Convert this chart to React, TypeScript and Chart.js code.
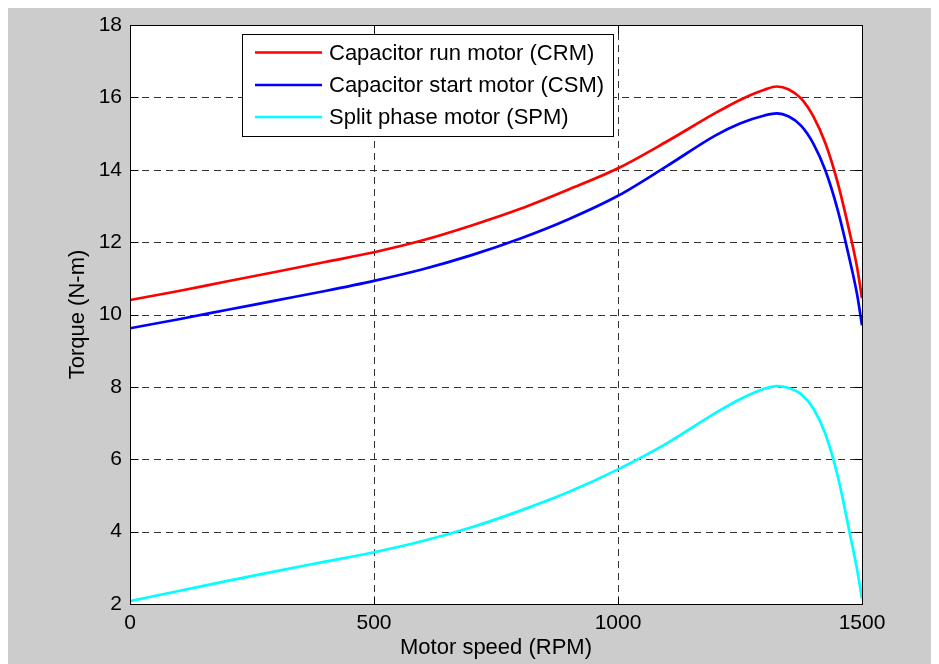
import React, { useEffect, useRef } from "react";
import { Chart, registerables } from "chart.js";

Chart.register(...registerables);

// ---- data ----
const speedRpm = [0, 100, 200, 300, 400, 500, 600, 700, 800, 900, 1000, 1100, 1200, 1250, 1300, 1325, 1350, 1375, 1400, 1425, 1450, 1475, 1490, 1500];
const crmTorque = [10.40, 10.65, 10.92, 11.18, 11.45, 11.72, 12.05, 12.46, 12.92, 13.46, 14.04, 14.78, 15.57, 15.93, 16.21, 16.30, 16.22, 15.97, 15.48, 14.73, 13.65, 12.25, 11.30, 10.45];
const csmTorque = [9.62, 9.87, 10.13, 10.39, 10.65, 10.93, 11.25, 11.64, 12.10, 12.64, 13.28, 14.10, 14.95, 15.28, 15.50, 15.56, 15.47, 15.22, 14.73, 13.98, 12.90, 11.50, 10.55, 9.70];
const spmTorque = [2.08, 2.36, 2.64, 2.91, 3.17, 3.43, 3.74, 4.12, 4.58, 5.10, 5.72, 6.44, 7.28, 7.66, 7.95, 8.02, 7.97, 7.80, 7.41, 6.70, 5.55, 3.95, 2.95, 2.15];

const seriesLabels = ["Capacitor run motor (CRM)", "Capacitor start motor (CSM)", "Split phase motor (SPM)"];
const seriesColors = ["#ff0000", "#0000ff", "#00ffff"];
const xTicks = [0, 500, 1000, 1500];
const yTicks = [2, 4, 6, 8, 10, 12, 14, 16, 18];
const xTitle = "Motor speed (RPM)";
const yTitle = "Torque (N-m)";

const FONT = 'Arial, "Liberation Sans", Helvetica, sans-serif';

const frame = {
  id: "matlabFrame",
  beforeDraw(chart: any) {
    const { ctx, chartArea: a, width, height } = chart;
    ctx.save();
    ctx.fillStyle = "#cccccc";
    ctx.fillRect(0, 0, width, height);
    ctx.fillStyle = "#ffffff";
    ctx.fillRect(a.left, a.top, a.right - a.left, a.bottom - a.top);
    ctx.restore();
  },
  beforeDatasetsDraw(chart: any) {
    const { ctx, chartArea: a, scales } = chart;
    const xs = scales.x;
    const ys = scales.y;
    ctx.save();
    ctx.strokeStyle = "#333333";
    ctx.lineWidth = 1;
    ctx.setLineDash([7, 5]);
    xs.ticks.forEach((t: any) => {
      const px = Math.round(xs.getPixelForValue(t.value)) + 0.5;
      ctx.beginPath();
      ctx.moveTo(px, a.bottom);
      ctx.lineTo(px, a.top);
      ctx.stroke();
    });
    ys.ticks.forEach((t: any) => {
      const py = Math.round(ys.getPixelForValue(t.value)) + 0.5;
      ctx.beginPath();
      ctx.moveTo(a.left, py);
      ctx.lineTo(a.right, py);
      ctx.stroke();
    });
    ctx.restore();
  },
  afterDatasetsDraw(chart: any) {
    const { ctx, chartArea: a, scales } = chart;
    const xs = scales.x;
    const ys = scales.y;
    ctx.save();
    ctx.setLineDash([]);
    ctx.strokeStyle = "#000000";
    ctx.lineWidth = 1;
    const L = Math.round(a.left) + 0.5;
    const R = Math.round(a.right) + 0.5;
    const T = Math.round(a.top) + 0.5;
    const B = Math.round(a.bottom) + 0.5;
    ctx.strokeRect(L, T, R - L, B - T);
    const tl = 8;
    ctx.beginPath();
    xs.ticks.forEach((t: any) => {
      const px = Math.round(xs.getPixelForValue(t.value)) + 0.5;
      ctx.moveTo(px, B); ctx.lineTo(px, B - tl);
      ctx.moveTo(px, T); ctx.lineTo(px, T + tl);
    });
    ys.ticks.forEach((t: any) => {
      const py = Math.round(ys.getPixelForValue(t.value)) + 0.5;
      ctx.moveTo(L, py); ctx.lineTo(L + tl, py);
      ctx.moveTo(R, py); ctx.lineTo(R - tl, py);
    });
    ctx.stroke();

    // legend
    const lx = 234.5, ly = 26.5, lw = 371, lh = 102;
    ctx.fillStyle = "#ffffff";
    ctx.fillRect(lx, ly, lw, lh);
    ctx.strokeStyle = "#000000";
    ctx.strokeRect(lx, ly, lw, lh);
    const rows = [44.5, 77, 109];
    ctx.font = `22px ${FONT}`;
    ctx.textBaseline = "middle";
    ctx.textAlign = "left";
    seriesLabels.forEach((label, i) => {
      ctx.strokeStyle = seriesColors[i];
      ctx.lineWidth = 2.7;
      ctx.beginPath();
      ctx.moveTo(247, rows[i]);
      ctx.lineTo(314, rows[i]);
      ctx.stroke();
      ctx.fillStyle = "#000000";
      ctx.fillText(label, 321, rows[i] + 1);
    });
    ctx.restore();
  },
};

export default function App() {
  const canvasRef = useRef<HTMLCanvasElement | null>(null);

  useEffect(() => {
    if (!canvasRef.current) return;
    const series = [crmTorque, csmTorque, spmTorque];
    const chart = new Chart(canvasRef.current, {
      type: "line",
      data: {
        datasets: series.map((vals, i) => ({
          label: seriesLabels[i],
          data: speedRpm.map((x, j) => ({ x, y: vals[j] })),
          borderColor: seriesColors[i],
          backgroundColor: seriesColors[i],
          borderWidth: 2.7,
          pointRadius: 0,
          cubicInterpolationMode: "monotone" as const,
          fill: false,
        })),
      },
      options: {
        animation: false,
        responsive: false,
        devicePixelRatio: 1,
        layout: { padding: { top: 17, right: 77, bottom: 0, left: 0 } },
        plugins: { legend: { display: false }, tooltip: { enabled: false } },
        scales: {
          x: {
            type: "linear",
            min: 0,
            max: 1500,
            afterBuildTicks: (s: any) => { s.ticks = xTicks.map((v) => ({ value: v })); },
            afterFit: (s: any) => { s.height = 60; s.paddingLeft = 0; s.paddingRight = 0; },
            grid: { display: false, drawTicks: false, tickLength: 0 },
            border: { display: false },
            ticks: { color: "#000", font: { family: FONT, size: 21 }, padding: 7, maxRotation: 0, autoSkip: false, callback: (v: any) => String(v) },
            title: { display: true, text: xTitle, color: "#000", font: { family: FONT, size: 22 }, padding: { top: 0, bottom: 3 } },
          },
          y: {
            type: "linear",
            min: 2,
            max: 18,
            afterBuildTicks: (s: any) => { s.ticks = yTicks.map((v) => ({ value: v })); },
            afterFit: (s: any) => { s.width = 122; s.paddingTop = 0; s.paddingBottom = 0; },
            grid: { display: false, drawTicks: false, tickLength: 0 },
            border: { display: false },
            ticks: { color: "#000", font: { family: FONT, size: 21 }, padding: 8, autoSkip: false, callback: (v: any) => String(v) },
            title: { display: true, text: yTitle, color: "#000", font: { family: FONT, size: 22 }, padding: { top: 57, bottom: 0 } },
          },
        },
      },
      plugins: [frame],
    });
    return () => chart.destroy();
  }, []);

  return (
    <div style={{ width: 931, height: 656, background: "#cccccc" }}>
      <canvas ref={canvasRef} width={931} height={656} style={{ display: "block" }} />
    </div>
  );
}
